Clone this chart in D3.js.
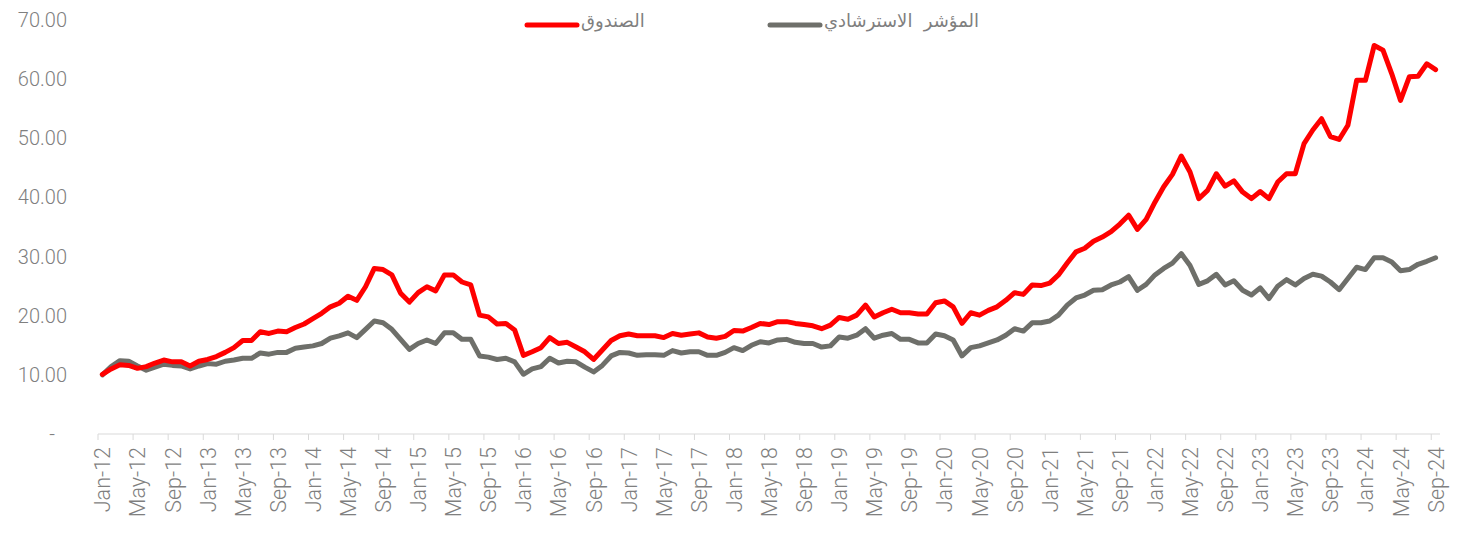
<!DOCTYPE html>
<html>
<head>
<meta charset="utf-8">
<script src="https://cdn.jsdelivr.net/npm/d3@7"></script>
<style>
  body { margin: 0; background: #fff; }
  svg { display: block; font-family: Roboto, "DejaVu Sans", sans-serif; }
</style>
</head>
<body>
<svg id="chart" width="1463" height="533"></svg>
<script>
// monthly series, Jan-12 .. Sep-24
var startMonth = new Date(2012, 0, 1);
var endMonth = new Date(2024, 8, 1);

var fund = [
  10.1, 11.0, 11.7, 11.6, 11.1, 11.4, 12.0, 12.5, 12.2, 12.2, 11.5, 12.3,
  12.6, 13.1, 13.8, 14.6, 15.8, 15.8, 17.3, 17.0, 17.4, 17.3, 18.0, 18.6,
  19.5, 20.4, 21.5, 22.1, 23.3, 22.6, 24.9, 28.0, 27.8, 26.9, 23.8, 22.3,
  23.9, 24.9, 24.2, 26.9, 26.9, 25.7, 25.2, 20.1, 19.8, 18.6, 18.7, 17.6,
  13.3, 13.9, 14.6, 16.3, 15.3, 15.5, 14.7, 13.9, 12.6, 14.2, 15.8, 16.6,
  16.9, 16.6, 16.6, 16.6, 16.3, 17.0, 16.7, 16.9, 17.1, 16.4, 16.2, 16.5,
  17.5, 17.4, 18.0, 18.7, 18.5, 19.0, 19.0, 18.7, 18.5, 18.3, 17.8, 18.4,
  19.7, 19.4, 20.1, 21.8, 19.8, 20.5, 21.1, 20.5, 20.5, 20.3, 20.3, 22.2,
  22.5, 21.5, 18.7, 20.5, 20.1, 20.9, 21.5, 22.6, 23.9, 23.6, 25.2, 25.1,
  25.5, 26.9, 28.9, 30.8, 31.4, 32.6, 33.3, 34.2, 35.5, 37.0, 34.6, 36.3,
  39.2, 41.8, 43.9, 47.0, 44.3, 39.8, 41.2, 44.0, 41.9, 42.8, 40.9, 39.8,
  41.0, 39.8, 42.6, 44.0, 44.0, 49.1, 51.4, 53.3, 50.3, 49.8, 52.2, 59.8,
  59.8, 65.7, 64.9, 60.9, 56.4, 60.4, 60.5, 62.6, 61.6
];

var benchmark = [
  10.0, 11.4, 12.4, 12.3, 11.5, 10.8, 11.3, 11.8, 11.6, 11.5, 11.0, 11.5,
  11.9, 11.8, 12.3, 12.5, 12.8, 12.8, 13.7, 13.5, 13.8, 13.8, 14.5, 14.7,
  14.9, 15.3, 16.2, 16.6, 17.1, 16.3, 17.7, 19.1, 18.8, 17.7, 16.0, 14.3,
  15.3, 15.9, 15.3, 17.1, 17.1, 16.0, 16.0, 13.2, 13.0, 12.6, 12.8, 12.2,
  10.1, 11.0, 11.4, 12.8, 12.0, 12.3, 12.2, 11.3, 10.5, 11.6, 13.2, 13.8,
  13.7, 13.3, 13.4, 13.4, 13.3, 14.1, 13.7, 13.9, 13.9, 13.3, 13.3, 13.8,
  14.6, 14.1, 15.0, 15.6, 15.4, 15.9, 16.0, 15.5, 15.3, 15.3, 14.7, 14.9,
  16.4, 16.2, 16.7, 17.8, 16.2, 16.7, 17.0, 16.0, 16.0, 15.4, 15.4, 16.9,
  16.6, 15.9, 13.2, 14.6, 14.9, 15.4, 15.9, 16.7, 17.8, 17.4, 18.8, 18.8,
  19.1, 20.1, 21.8, 23.0, 23.5, 24.3, 24.4, 25.2, 25.7, 26.6, 24.3, 25.3,
  26.9, 28.0, 28.9, 30.5, 28.5, 25.3, 25.9, 27.0, 25.2, 25.9, 24.3, 23.5,
  24.7, 22.9, 25.0, 26.1, 25.2, 26.3, 27.0, 26.7, 25.7, 24.4, 26.3, 28.2,
  27.8, 29.8, 29.8, 29.1, 27.6, 27.8, 28.7, 29.2, 29.8
];

var tickLabels = [
  "Jan-12", "May-12", "Sep-12", "Jan-13", "May-13", "Sep-13", "Jan-14", "May-14",
  "Sep-14", "Jan-15", "May-15", "Sep-15", "Jan-16", "May-16", "Sep-16", "Jan-17",
  "May-17", "Sep-17", "Jan-18", "May-18", "Sep-18", "Jan-19", "May-19", "Sep-19",
  "Jan-20", "May-20", "Sep-20", "Jan-21", "May-21", "Sep-21", "Jan-22", "May-22",
  "Sep-22", "Jan-23", "May-23", "Sep-23", "Jan-24", "May-24", "Sep-24"
];

var yTicks = [0, 10, 20, 30, 40, 50, 60, 70];

var seriesNames = ["الصندوق", "المؤشر  الاسترشادي"];
var seriesColors = ["#ff0000", "#6e6f6a"];

var months = d3.timeMonth.range(startMonth, d3.timeMonth.offset(endMonth, 1));
var fmt = d3.timeFormat("%b-%y");

var svg = d3.select("#chart");

var x = d3.scaleBand().domain(months.map(fmt)).range([98, 1440]);
var y = d3.scaleLinear().domain([0, 70]).range([434, 20]);
var cx = function(i){ return x(fmt(months[i])) + x.bandwidth() / 2; };

// y labels
svg.append("g").selectAll("text").data(yTicks).enter().append("text")
  .attr("x", function(d){ return d === 0 ? 55 : 67; })
  .attr("y", function(d){ return y(d); })
  .attr("dy", "0.35em")
  .attr("text-anchor", "end")
  .style("font-size", "20px").style("font-weight", 300).style("fill", "#7f7f7f")
  .text(function(d){ return d === 0 ? "-" : d3.format(".2f")(d); });

// x axis, ticks between categories
var xAxis = d3.axisBottom(x)
  .tickValues(tickLabels)
  .tickSize(6)
  .tickFormat("");
var gx = svg.append("g").attr("transform", "translate(0,434)").call(xAxis);
gx.select(".domain").attr("stroke", "#d9d9d9").attr("d", "M98,0H1440");
gx.selectAll(".tick line").attr("stroke", "#d9d9d9").attr("x1", -x.bandwidth() / 2).attr("x2", -x.bandwidth() / 2);

svg.append("g").selectAll("text").data(tickLabels).enter().append("text")
  .attr("transform", function(d){ return "translate(" + (x(d) + x.bandwidth() / 2 + 8) + ",447) rotate(-90)"; })
  .attr("text-anchor", "end")
  .style("font-size", "21.5px").style("font-weight", 300).style("fill", "#7f7f7f")
  .text(function(d){ return d; });

// lines
var line = d3.line()
  .x(function(d, i){ return cx(i); })
  .y(function(d){ return y(d); });

[benchmark, fund].forEach(function(s, k){
  svg.append("path").datum(s)
    .attr("fill", "none")
    .attr("stroke", k === 0 ? seriesColors[1] : seriesColors[0])
    .attr("stroke-width", 5)
    .attr("stroke-linejoin", "round")
    .attr("stroke-linecap", "round")
    .attr("d", line);
});

// legend
var legend = [
  { name: seriesNames[0], color: seriesColors[0], x: 527 },
  { name: seriesNames[1], color: seriesColors[1], x: 770 }
];
var lg = svg.append("g").selectAll("g").data(legend).enter().append("g")
  .attr("transform", function(d){ return "translate(" + d.x + ",25)"; });
lg.append("line").attr("x1", 0).attr("x2", 50).attr("y1", 0).attr("y2", 0)
  .attr("stroke", function(d){ return d.color; })
  .attr("stroke-width", 5).attr("stroke-linecap", "round");
lg.append("text").attr("x", 54).attr("dy", "0.1em")
  .style("font-size", "18px").style("fill", "#7f7f7f")
  .style("white-space", "pre")
  .style("font-family", "'DejaVu Sans', sans-serif")
  .text(function(d){ return d.name; });
</script>
</body>
</html>
